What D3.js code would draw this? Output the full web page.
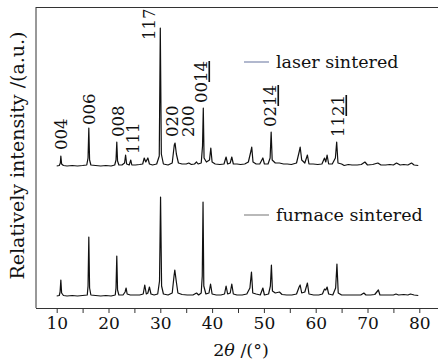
<!DOCTYPE html>
<html>
<head>
<meta charset="utf-8">
<script src="https://cdn.jsdelivr.net/npm/d3@7"></script>
<style>
  body { margin: 0; background: #fff; }
  svg text { font-family: "DejaVu Serif", "Liberation Serif", serif; fill: #111; }
</style>
</head>
<body>
<figure id="xrd" style="margin:0"></figure>
<script>
// x ticks
const xTicks = [10, 20, 30, 40, 50, 60, 70, 80];

// laser sintered pattern [2theta, intensity above its own baseline]
const laser = [
  [10,0],[10.5,0.5],[10.7,3],[10.8,10],[10.95,2],[11.3,0.5],[12,0],[13,0.5],[14,0],[15,0.5],
  [15.8,1],[16.05,8],[16.2,38],[16.35,6],[16.6,1],[17.5,0.5],[18.5,0],[19.5,0.5],[20.5,0],
  [21.2,1],[21.45,6],[21.6,24],[21.75,5],[22,1],[22.6,1],[23.1,3],[23.3,11],[23.5,2],[24,1],
  [24.3,6],[24.5,1],[25.2,1],[26,1.5],[26.6,2],[26.9,8],[27.2,4],[27.6,8],[27.9,2],[28.5,1],
  [29.3,2],[29.8,10],[30.0,138],[30.2,12],[30.6,2],[31.5,1],[32.3,3],[32.7,21],[32.85,23],
  [33.1,12],[33.5,3],[34.2,2],[35,2],[35.5,3],[36,1.5],[36.6,2],[37.0,4],[37.3,2],[37.9,3],
  [38.15,20],[38.3,58],[38.45,8],[38.9,4],[39.5,6],[39.75,18],[40,4],[40.6,2],[41.5,1.5],
  [42.3,2],[42.7,9],[43,2],[43.5,3],[43.8,9],[44.1,2],[44.8,2],[45.5,1.5],[46.3,2],[47,4],
  [47.5,15],[47.65,19],[47.9,4],[48.5,2],[49.2,2],[49.8,8],[50.1,2],[50.8,2],[51.2,8],
  [51.4,34],[51.6,6],[52.2,3],[53,3],[53.8,2],[54.5,2],[55.3,1.5],[56.3,3],[56.85,15],
  [57.0,19],[57.3,6],[57.9,3],[58.4,11],[58.7,2],[59.5,2],[60.4,1.5],[61.2,2],[61.7,8],
  [61.95,4],[62.2,11],[62.5,2],[63.2,2],[63.8,8],[64.05,24],[64.3,3],[65,2],[65.5,0.5],
  [66.3,1.5],[67,1],[68,1],[68.8,1.5],[69.5,4],[70,1],[71,1.5],[72,3],[72.6,1],[73.5,1],
  [74.3,1.5],[75,1],[75.6,3],[76.3,1],[77,1.5],[77.8,1],[78.5,3],[79,1],[79.8,0.5]
];

// furnace sintered pattern
const furnace = [
  [10,0],[10.5,0.5],[10.65,4],[10.8,16],[10.95,3],[11.3,0.5],[12,0],[13,0.5],[14,0],[15,0.5],
  [15.9,1],[16.05,10],[16.2,59],[16.35,8],[16.6,1],[17.5,0.5],[18.5,0],[19.5,0.5],[20.5,0],
  [21.3,1],[21.45,8],[21.6,40],[21.75,6],[22,1],[22.8,1],[23.2,4],[23.4,8],[23.6,2],[24.2,1],
  [25,1],[26,1],[26.7,2],[27.0,11],[27.3,2],[27.6,3],[27.9,9],[28.2,2],[28.8,1],[29.5,2],
  [29.85,15],[30.05,99],[30.25,10],[30.6,2],[31.5,1],[32.3,3],[32.65,20],[32.8,26],[33.1,14],
  [33.4,3],[34.2,1.5],[35.2,1],[36.3,1],[37,3],[37.4,1],[37.9,3],[38.1,20],[38.25,94],
  [38.4,10],[38.8,2],[39.4,3],[39.7,12],[40,2],[40.8,1],[41.7,1],[42.4,2],[42.7,10],[43,2],
  [43.5,3],[43.8,12],[44.1,2],[44.8,1],[45.8,1],[46.7,2],[47.3,8],[47.6,24],[47.85,3],
  [48.5,2],[49.3,1],[49.8,8],[50.1,1],[50.9,2],[51.25,10],[51.45,31],[51.65,5],[52.2,3],
  [53,4],[53.5,1.5],[54.4,1],[55.4,1],[56.3,2],[56.8,9],[57.0,11],[57.3,3],[57.9,4],
  [58.4,13],[58.7,2],[59.6,1],[60.6,1],[61.3,2],[61.7,7],[61.95,6],[62.2,9],[62.5,2],
  [63.3,1],[63.85,8],[64.1,32],[64.35,3],[65,1],[65.8,1],[66.7,1],[67.7,1],[68.7,1],
  [69.3,3],[69.7,1],[70.6,1],[71.4,1.5],[72.1,6],[72.4,1],[73.2,1],[74.3,1],[75,1],[75.5,2],
  [76,1],[77,1.5],[77.8,1],[78.3,2],[79,1],[79.8,0.5]
];

// vertical offsets of the two stacked patterns (a.u.)
const offsets = { laser: 142, furnace: 12 };

// peak labels: text, 2theta of label centre, intensity (a.u.) where the text starts, underlined tail
const peakLabels = [
  { hkl: "004",  pos: 10.93, at: 158, bar: "" },
  { hkl: "006",  pos: 16.24, at: 183, bar: "" },
  { hkl: "008",  pos: 21.83, at: 171, bar: "" },
  { hkl: "111",  pos: 24.73, at: 154, bar: "" },
  { hkl: "117",  pos: 27.82, at: 268, bar: "" },
  { hkl: "020",  pos: 32.26, at: 171, bar: "" },
  { hkl: "200",  pos: 35.44, at: 171, bar: "" },
  { hkl: "00",   pos: 37.95, at: 205, bar: "14" },
  { hkl: "02",   pos: 51.27, at: 181, bar: "14" },
  { hkl: "11",   pos: 64.4,  at: 171, bar: "21" }
];

const legendItems = [
  { name: "laser sintered",   at: 246, color: "#7c88ad" },
  { name: "furnace sintered", at: 93,  color: "#8a8a8a" }
];

const width = 438, height = 362;
const margin = { top: 7, right: 0, bottom: 54, left: 36 };

const svg = d3.select("figure#xrd")
  .append("svg")
  .attr("width", width)
  .attr("height", height);

const x = d3.scaleLinear()
  .domain([10, 80])
  .range([56.7, 419.3]);

const y = d3.scaleLinear()
  .domain([0, 301])
  .range([height - margin.bottom, margin.top]);

// frame: left and top lines, bottom axis
svg.append("line")
  .attr("x1", margin.left).attr("x2", margin.left)
  .attr("y1", margin.top).attr("y2", height - margin.bottom)
  .attr("stroke", "#333").attr("stroke-width", 1);
svg.append("line")
  .attr("x1", margin.left).attr("x2", width)
  .attr("y1", margin.top + 0.5).attr("y2", margin.top + 0.5)
  .attr("stroke", "#333").attr("stroke-width", 1);

const xAxis = svg.append("g")
  .attr("transform", "translate(0," + (height - margin.bottom) + ")")
  .call(d3.axisBottom(x).tickValues(d3.range(10, 81, 5)).tickSize(5)
    .tickFormat(d => xTicks.includes(d) ? d : ""));
xAxis.select(".domain")
  .attr("d", "M" + margin.left + ",0.5H" + width)
  .attr("stroke", "#333");
xAxis.selectAll(".tick line").attr("stroke", "#333");
xAxis.selectAll(".tick text")
  .attr("y", 9)
  .style("font-size", "17px")
  .style("font-family", "'DejaVu Serif', serif");

// patterns
const line = d3.line()
  .x(d => x(d[0]))
  .y(d => y(d[1]));

svg.append("path")
  .datum(furnace.map(d => [d[0], d[1] + offsets.furnace]))
  .attr("d", line)
  .attr("fill", "none")
  .attr("stroke", "#111")
  .attr("stroke-width", 1.2)
  .attr("stroke-linejoin", "round");

svg.append("path")
  .datum(laser.map(d => [d[0], d[1] + offsets.laser]))
  .attr("d", line)
  .attr("fill", "none")
  .attr("stroke", "#111")
  .attr("stroke-width", 1.2)
  .attr("stroke-linejoin", "round");

// peak labels (rotated, centred on pos)
const lbl = svg.selectAll("text.hkl")
  .data(peakLabels)
  .enter()
  .append("text")
  .attr("class", "hkl")
  .attr("transform", d => "translate(" + x(d.pos) + "," + y(d.at) + ") rotate(-90)")
  .attr("dy", "0.36em")
  .style("font-size", "16.5px");
lbl.append("tspan").text(d => d.hkl);
lbl.append("tspan")
  .style("text-decoration", "underline")
  .text(d => d.bar);

// legend
legendItems.forEach(item => {
  svg.append("line")
    .attr("x1", 244).attr("x2", 269)
    .attr("y1", y(item.at)).attr("y2", y(item.at))
    .attr("stroke", item.color).attr("stroke-width", 1.2);
  svg.append("text")
    .attr("x", 276)
    .attr("y", y(item.at))
    .attr("dy", "0.33em")
    .style("font-size", "17.5px")
    .text(item.name);
});

// axis titles
svg.append("text")
  .attr("transform", "translate(24,155.5) rotate(-90)")
  .attr("text-anchor", "middle")
  .style("font-size", "19px")
  .text("Relatively intensity /(a.u.)");

const xt = svg.append("text")
  .attr("x", 241)
  .attr("y", 356)
  .attr("text-anchor", "middle")
  .style("font-size", "17.5px");
xt.append("tspan").text("2");
xt.append("tspan").style("font-style", "italic").text("θ");
xt.append("tspan").text(" /(°)");
</script>
</body>
</html>
